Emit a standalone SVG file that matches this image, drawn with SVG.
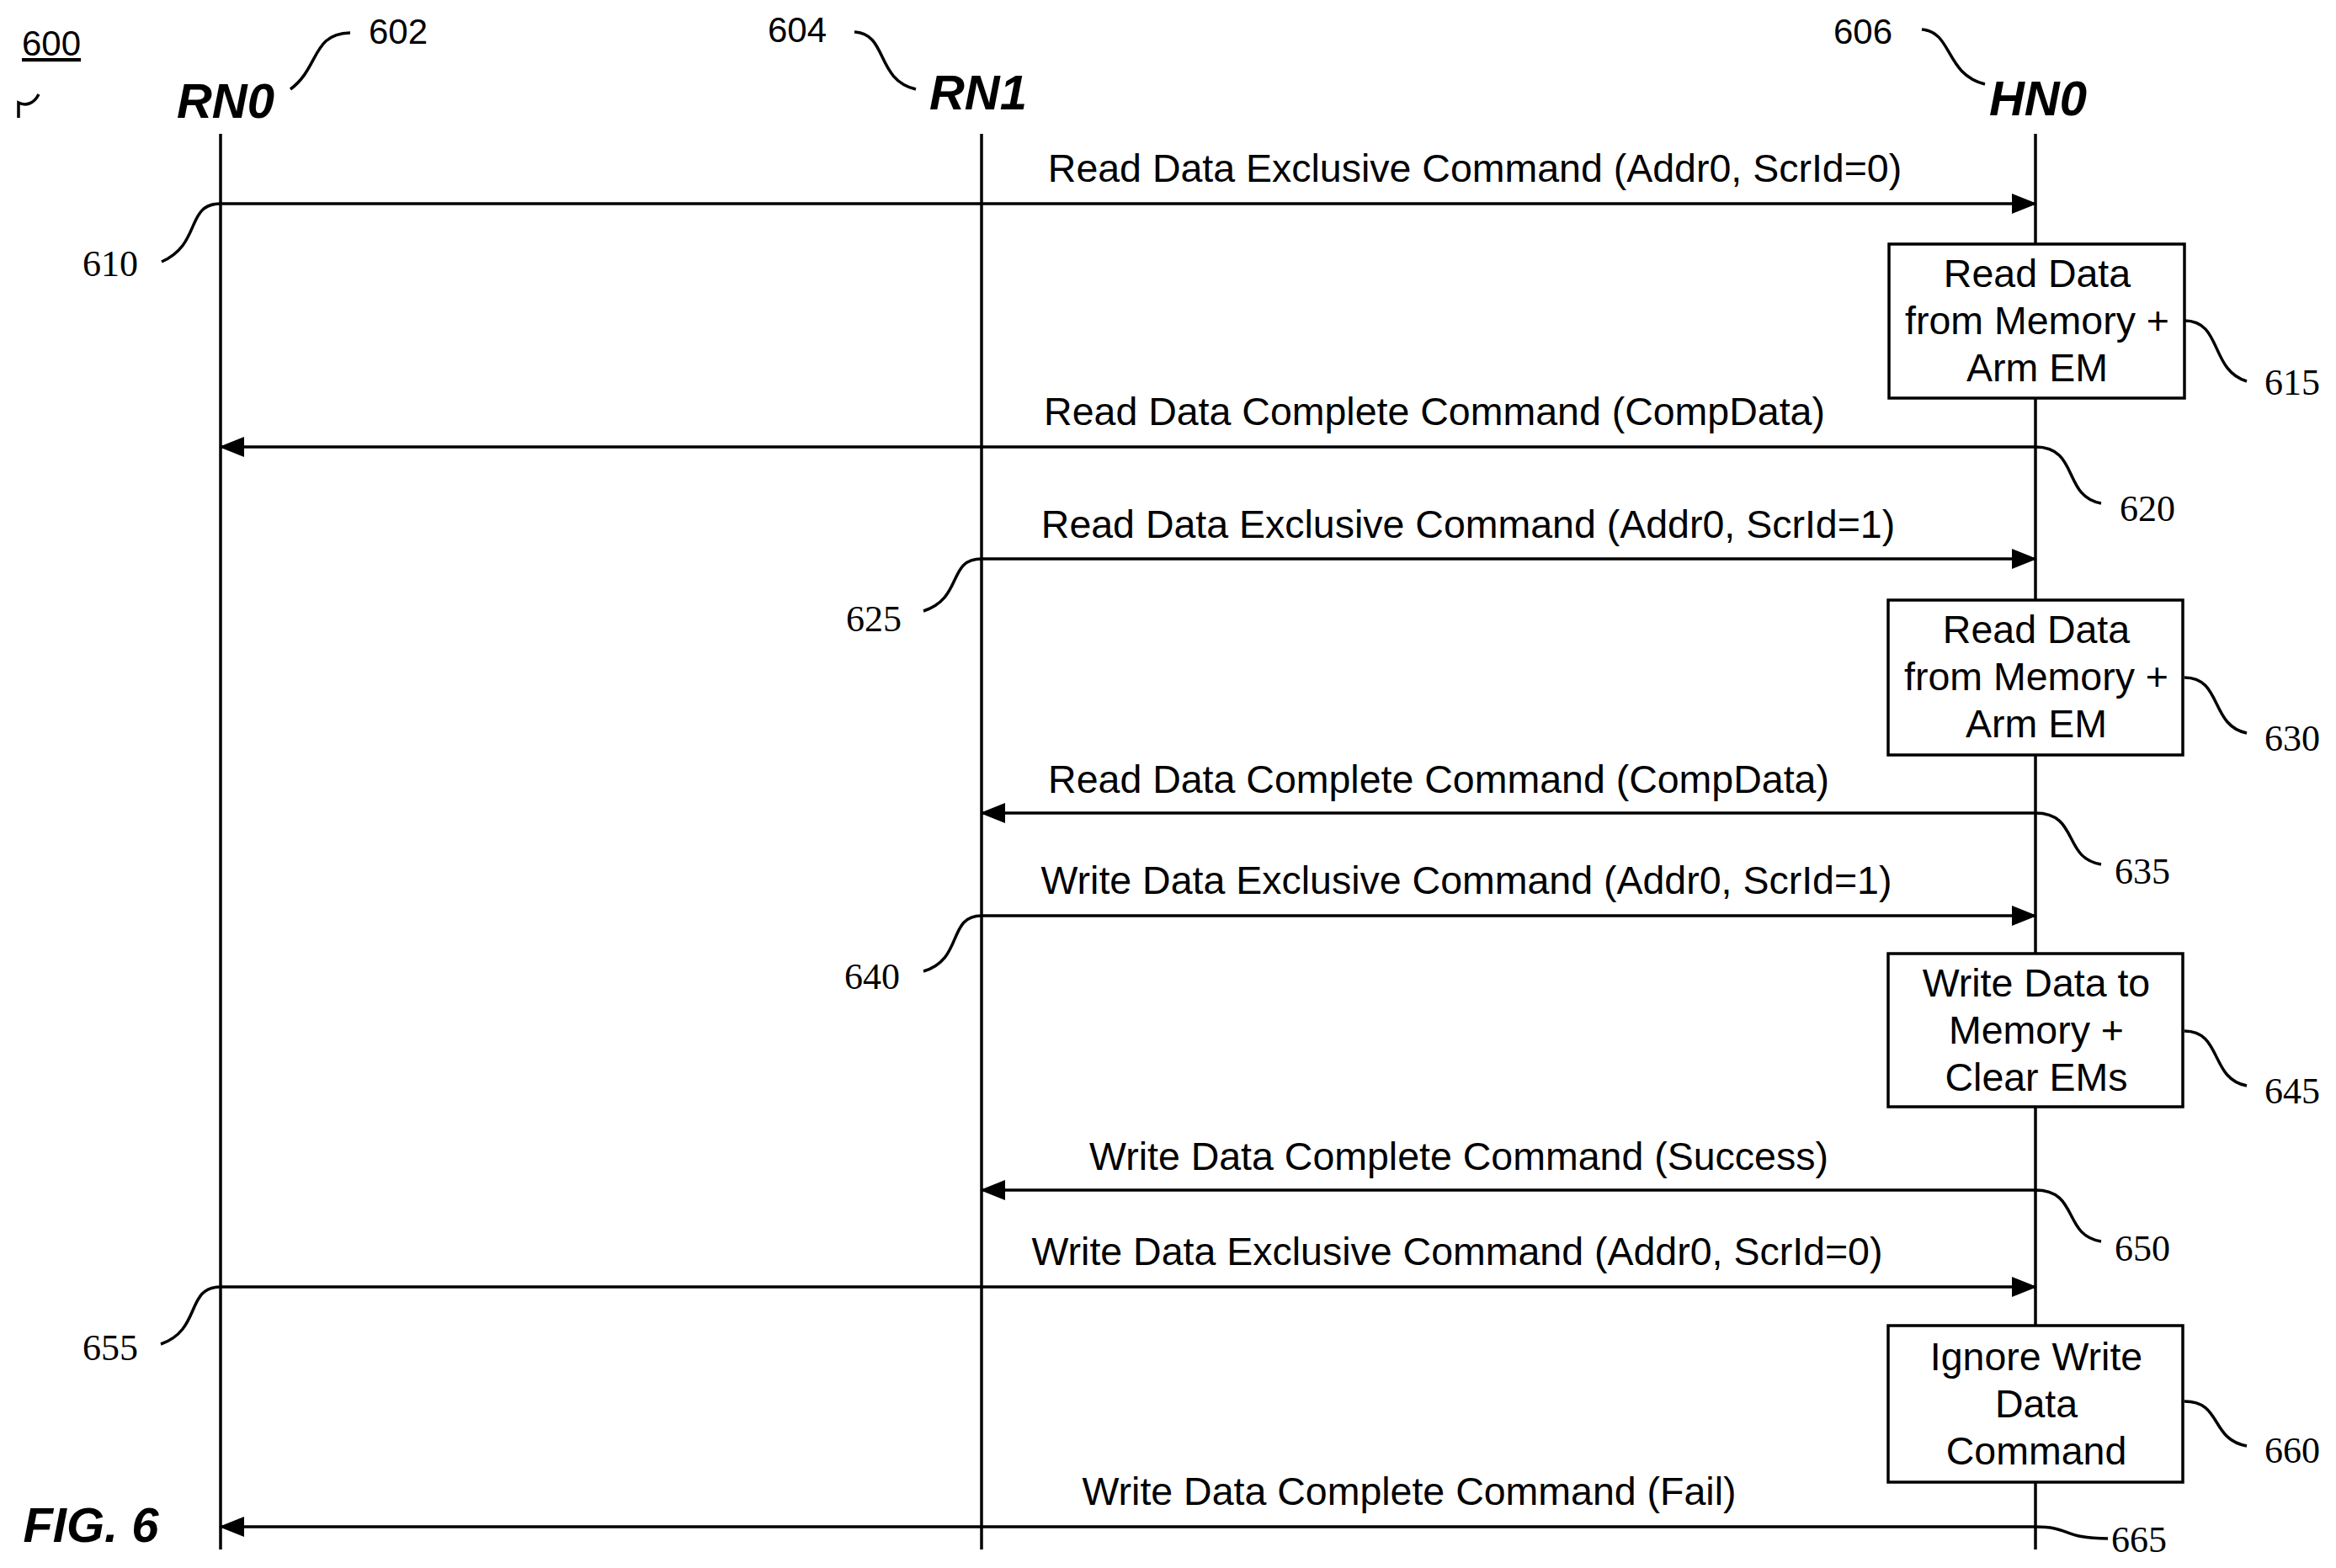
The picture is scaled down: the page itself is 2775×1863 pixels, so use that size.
<svg xmlns="http://www.w3.org/2000/svg" width="2775" height="1863" viewBox="0 0 2775 1863">
<style>
.ll{stroke:#000;stroke-width:3.5;fill:none}
.ar{stroke:#000;stroke-width:3.5;fill:none;marker-end:url(#ah)}
.ld{stroke:#000;stroke-width:3.5;fill:none}
.bx{fill:#fff;stroke:#000;stroke-width:3.5}
.t{font-family:"Liberation Sans",Arial,sans-serif;font-size:46.5px;text-anchor:middle;fill:#000}
.n{font-family:"Liberation Serif","Times New Roman",serif;font-size:44px;fill:#000}
.s{font-family:"Liberation Sans",Arial,sans-serif;font-size:42px;fill:#000}
.h{font-family:"Liberation Sans",Arial,sans-serif;font-size:58px;font-weight:bold;font-style:italic;text-anchor:middle;fill:#000}
</style>
<defs><marker id="ah" markerUnits="userSpaceOnUse" markerWidth="30" markerHeight="24" refX="28" refY="12" orient="auto"><path d="M0,0 L30,12 L0,24 Z" fill="#000"/></marker></defs>
<rect width="2775" height="1863" fill="#fff"/>
<g id="rn0"><text class="h" x="268" y="140">RN0</text><line class="ll" x1="262" y1="159" x2="262" y2="1841"/><text class="s" x="438" y="52">602</text><path class="ld" d="M345,106 C380,80 370,40 416,39"/></g>
<g id="rn1"><text class="h" x="1162" y="130">RN1</text><line class="ll" x1="1166" y1="159" x2="1166" y2="1841"/><text class="s" x="912" y="50">604</text><path class="ld" d="M1015,38 C1055,40 1040,95 1088,106"/></g>
<g id="hn0"><text class="h" x="2421" y="137">HN0</text><line class="ll" x1="2418" y1="159" x2="2418" y2="1841"/><text class="s" x="2178" y="52">606</text><path class="ld" d="M2283,35 C2320,38 2310,88 2358,100"/></g>
<g id="fig"><text class="s" x="26" y="66" text-decoration="underline">600</text><path class="ld" d="M22,140 L22,122 C30,126 40,124 46,112"/><text class="h" x="108" y="1832" font-size="56">FIG. 6</text></g>
<g id="connectors">
<path class="ar" d="M262,242 H2418"/>
<path class="ar" d="M2418,531 H262"/>
<path class="ar" d="M1166,664 H2418"/>
<path class="ar" d="M2418,966 H1166"/>
<path class="ar" d="M1166,1088 H2418"/>
<path class="ar" d="M2418,1414 H1166"/>
<path class="ar" d="M262,1529 H2418"/>
<path class="ar" d="M2418,1814 H262"/>
<path class="ld" d="M192,311 C240,290 220,242 262,242"/>
<path class="ld" d="M2595,381 C2640,381 2625,440 2669,453"/>
<path class="ld" d="M2418,531 C2470,531 2450,590 2496,598"/>
<path class="ld" d="M1097,726 C1145,710 1125,664 1166,664"/>
<path class="ld" d="M2595,805 C2640,805 2625,862 2669,871"/>
<path class="ld" d="M2418,966 C2470,966 2450,1020 2496,1027"/>
<path class="ld" d="M1097,1154 C1145,1140 1125,1088 1166,1088"/>
<path class="ld" d="M2595,1225 C2640,1225 2625,1282 2669,1290"/>
<path class="ld" d="M2418,1414 C2470,1414 2450,1468 2496,1475"/>
<path class="ld" d="M191,1597 C240,1580 220,1529 262,1529"/>
<path class="ld" d="M2595,1665 C2640,1665 2625,1710 2669,1718"/>
<path class="ld" d="M2418,1814 C2460,1814 2450,1828 2504,1828"/>
</g>
<g id="labels">
<text class="t" x="1752" y="216">Read Data Exclusive Command (Addr0, ScrId=0)</text>
<text class="t" x="1704" y="505">Read Data Complete Command (CompData)</text>
<text class="t" x="1744" y="639">Read Data Exclusive Command (Addr0, ScrId=1)</text>
<text class="t" x="1709" y="942">Read Data Complete Command (CompData)</text>
<text class="t" x="1742" y="1062">Write Data Exclusive Command (Addr0, ScrId=1)</text>
<text class="t" x="1733" y="1390">Write Data Complete Command (Success)</text>
<text class="t" x="1731" y="1503">Write Data Exclusive Command (Addr0, ScrId=0)</text>
<text class="t" x="1674" y="1788">Write Data Complete Command (Fail)</text>
<text class="n" x="98" y="328">610</text>
<text class="n" x="2690" y="469">615</text>
<text class="n" x="2518" y="619">620</text>
<text class="n" x="1005" y="750">625</text>
<text class="n" x="2690" y="892">630</text>
<text class="n" x="2512" y="1050">635</text>
<text class="n" x="1003" y="1175">640</text>
<text class="n" x="2690" y="1311">645</text>
<text class="n" x="2512" y="1498">650</text>
<text class="n" x="98" y="1616">655</text>
<text class="n" x="2690" y="1738">660</text>
<text class="n" x="2508" y="1844">665</text>
</g>
<g id="b615"><rect class="bx" x="2244" y="290" width="351" height="183"/><text class="t" x="2420" y="341">Read Data</text><text class="t" x="2420" y="397">from Memory +</text><text class="t" x="2420" y="453">Arm EM</text></g>
<g id="b630"><rect class="bx" x="2243" y="713" width="350" height="184"/><text class="t" x="2419" y="764">Read Data</text><text class="t" x="2419" y="820">from Memory +</text><text class="t" x="2419" y="876">Arm EM</text></g>
<g id="b645"><rect class="bx" x="2243" y="1133" width="350" height="182"/><text class="t" x="2419" y="1184">Write Data to</text><text class="t" x="2419" y="1240">Memory +</text><text class="t" x="2419" y="1296">Clear EMs</text></g>
<g id="b660"><rect class="bx" x="2243" y="1575" width="350" height="186"/><text class="t" x="2419" y="1628">Ignore Write</text><text class="t" x="2419" y="1684">Data</text><text class="t" x="2419" y="1740">Command</text></g>
</svg>
